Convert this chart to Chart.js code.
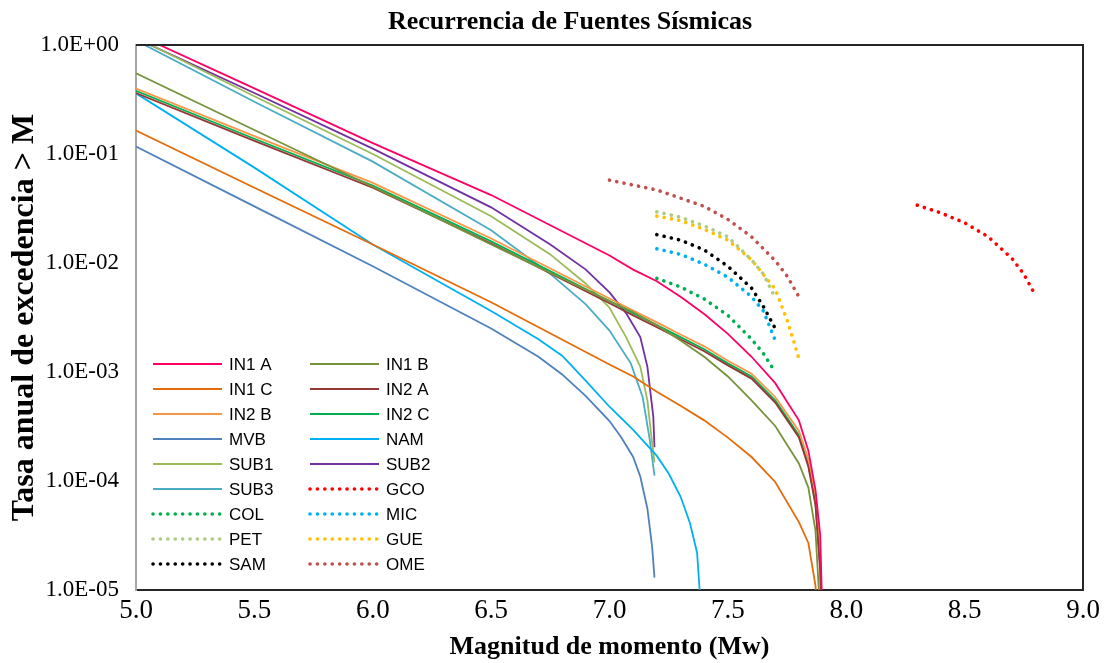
<!DOCTYPE html>
<html>
<head>
<meta charset="utf-8">
<script src="https://cdn.jsdelivr.net/npm/chart.js@4.4.0/dist/chart.umd.min.js"></script>
<style>
  html, body { margin: 0; padding: 0; background: #fff; }
  #wrap { width: 1105px; height: 663px; position: relative; }
</style>
</head>
<body>
<div id="wrap"><canvas id="recurrenceChart"></canvas></div>
<script>
// Magnitudes (Mw) and annual exceedance rates
const in1aM = [5.0, 5.5, 6.0, 6.5, 7.0, 7.1, 7.2, 7.3, 7.4, 7.5, 7.6, 7.7, 7.8, 7.84, 7.87, 7.89, 7.9];
const in1aRate = [1.26, 0.40, 0.126, 0.042, 0.0117, 0.0087, 0.0068, 0.0049, 0.0034, 0.00224, 0.00138, 0.00079, 0.00036, 0.00019, 8.3e-5, 3.2e-5, 5e-6];

const in1bM = [5.0, 5.5, 6.0, 6.5, 7.0, 7.1, 7.2, 7.3, 7.4, 7.5, 7.6, 7.7, 7.8, 7.84, 7.87, 7.89];
const in1bRate = [0.55, 0.166, 0.050, 0.0148, 0.00447, 0.00355, 0.00269, 0.00195, 0.00138, 0.00091, 0.00055, 0.00032, 0.000145, 8.7e-5, 3.5e-5, 6e-6];

const in1cM = [5.0, 5.5, 6.0, 6.5, 7.0, 7.1, 7.2, 7.3, 7.4, 7.5, 7.6, 7.7, 7.8, 7.84, 7.87, 7.88];
const in1cRate = [0.164, 0.049, 0.0148, 0.00437, 0.00117, 0.00091, 0.00066, 0.00049, 0.00036, 0.00025, 0.000166, 9.8e-5, 4.2e-5, 2.7e-5, 1.1e-5, 5e-6];

const in2M = [5.0, 5.5, 6.0, 6.5, 7.0, 7.1, 7.2, 7.3, 7.4, 7.5, 7.6, 7.7, 7.8, 7.84, 7.87, 7.89, 7.9];
const in2aRate = [0.363, 0.132, 0.049, 0.0151, 0.00427, 0.00331, 0.00257, 0.002, 0.00155, 0.00115, 0.00087, 0.000525, 0.000251, 0.000135, 6e-5, 1.5e-5, 3e-6];
const in2bRate = [0.398, 0.146, 0.0543, 0.0168, 0.00473, 0.00367, 0.00285, 0.00221, 0.00172, 0.00127, 0.000966, 0.00059, 0.000288, 0.000158, 7.6e-5, 2e-5, 3e-6];
const in2cRate = [0.380, 0.138, 0.0513, 0.0158, 0.00447, 0.00347, 0.00269, 0.00209, 0.00162, 0.0012, 0.000912, 0.00055, 0.000263, 0.000141, 6.3e-5, 1.6e-5, 3e-6];

const mvbM = [5.0, 5.5, 6.0, 6.5, 6.7, 6.8, 6.9, 7.0, 7.05, 7.1, 7.13, 7.16, 7.18, 7.19];
const mvbRate = [0.117, 0.0331, 0.00933, 0.00251, 0.00138, 0.00095, 0.0006, 0.000355, 0.000251, 0.000166, 0.00011, 5.6e-5, 2.5e-5, 1.3e-5];

const namM = [5.0, 5.5, 6.0, 6.5, 6.7, 6.8, 6.9, 7.0, 7.1, 7.2, 7.25, 7.3, 7.34, 7.37, 7.39];
const namRate = [0.36, 0.075, 0.0148, 0.00363, 0.002, 0.00141, 0.00083, 0.00048, 0.000295, 0.00017, 0.000117, 7.2e-5, 4.1e-5, 2.2e-5, 5e-6];

const sub1M = [5.0, 5.5, 6.0, 6.5, 6.75, 6.9, 7.0, 7.07, 7.13, 7.16, 7.18, 7.19];
const sub1Rate = [1.17, 0.339, 0.1, 0.0269, 0.012, 0.00646, 0.00389, 0.00209, 0.00112, 0.00055, 0.000224, 0.000148];
const sub2M = [5.0, 5.5, 6.0, 6.5, 6.75, 6.9, 7.0, 7.07, 7.13, 7.16, 7.185, 7.19];
const sub2Rate = [1.15, 0.363, 0.112, 0.0324, 0.0148, 0.0087, 0.00537, 0.00347, 0.00209, 0.00112, 0.00039, 0.000204];
const sub3M = [5.0, 5.5, 6.0, 6.5, 6.75, 6.9, 7.0, 7.09, 7.14, 7.17, 7.19];
const sub3Rate = [1.10, 0.302, 0.0851, 0.02, 0.00794, 0.00417, 0.0024, 0.0012, 0.00059, 0.00024, 0.000112];

const gcoM = [8.3, 8.4, 8.5, 8.6, 8.7, 8.75, 8.8];
const gcoRate = [0.0339, 0.0288, 0.0234, 0.0174, 0.011, 0.0079, 0.005];

const smallM = [7.2, 7.3, 7.4, 7.5, 7.6, 7.65, 7.7];
const colRate = [0.00724, 0.00603, 0.00468, 0.00331, 0.002, 0.00148, 0.001];
const micRate = [0.0135, 0.012, 0.00977, 0.00741, 0.0049, 0.00363, 0.00195];
const petRate = [0.0295, 0.0263, 0.0219, 0.0174, 0.0107, 0.0079, 0.0048];
const samRate = [0.0182, 0.0162, 0.0132, 0.00933, 0.00589, 0.00398, 0.00251];

const gueM = [7.2, 7.3, 7.4, 7.5, 7.6, 7.7, 7.75, 7.78, 7.8];
const gueRate = [0.0269, 0.0245, 0.0204, 0.0162, 0.0107, 0.00575, 0.003, 0.00186, 0.00132];

const omeM = [7.0, 7.2, 7.4, 7.5, 7.6, 7.7, 7.75, 7.8];
const omeRate = [0.0575, 0.0468, 0.0331, 0.0251, 0.0174, 0.0105, 0.0076, 0.0049];

const rateTicks = [1e-5, 1e-4, 1e-3, 1e-2, 1e-1, 1];

// pair magnitude and rate arrays into points
const pts = (m, r) => m.map((x, i) => ({ x: x, y: r[i] }));

// name, points, colour, dotted?
const series = [
  ['IN1 A', pts(in1aM, in1aRate), '#FF0066', false],
  ['IN1 B', pts(in1bM, in1bRate), '#77933C', false],
  ['IN1 C', pts(in1cM, in1cRate), '#E46C0A', false],
  ['IN2 A', pts(in2M, in2aRate), '#953735', false],
  ['IN2 B', pts(in2M, in2bRate), '#F79646', false],
  ['IN2 C', pts(in2M, in2cRate), '#00B050', false],
  ['MVB', pts(mvbM, mvbRate), '#4F81BD', false],
  ['NAM', pts(namM, namRate), '#00B0F0', false],
  ['SUB1', pts(sub1M, sub1Rate), '#9BBB59', false],
  ['SUB2', pts(sub2M, sub2Rate), '#7030A0', false],
  ['SUB3', pts(sub3M, sub3Rate), '#4BACC6', false],
  ['GCO', pts(gcoM, gcoRate), '#FF0000', true],
  ['COL', pts(smallM, colRate), '#00B050', true],
  ['MIC', pts(smallM, micRate), '#00B0F0', true],
  ['PET', pts(smallM, petRate), '#AECB83', true],
  ['GUE', pts(gueM, gueRate), '#FFC000', true],
  ['SAM', pts(smallM, samRate), '#000000', true],
  ['OME', pts(omeM, omeRate), '#C0504D', true]
];

const datasets = series.map(s => ({
  label: s[0],
  data: s[1],
  borderColor: s[2],
  backgroundColor: s[2],
  borderWidth: s[3] ? 3.6 : 1.8,
  borderDash: s[3] ? [0.1, 7.3] : [],
  borderCapStyle: s[3] ? 'round' : 'butt',
  pointRadius: 0,
  tension: 0,
  fill: false,
  clip: 0
}));

// title, frame and two column legend drawn on the canvas
const decorPlugin = {
  id: 'decor',
  afterDatasetsDraw(chart) {
    const ctx = chart.ctx;
    const a = chart.chartArea;
    ctx.save();
    // top and right frame
    ctx.strokeStyle = '#262626';
    ctx.lineWidth = 2;
    ctx.beginPath();
    ctx.moveTo(a.left, a.top);
    ctx.lineTo(a.right, a.top);
    ctx.lineTo(a.right, a.bottom);
    ctx.stroke();

    // title
    ctx.fillStyle = '#000';
    ctx.font = 'bold 26px "Liberation Serif", "Times New Roman", serif';
    ctx.textAlign = 'center';
    ctx.textBaseline = 'middle';
    ctx.fillText('Recurrencia de Fuentes Sísmicas', 570, 22);

    // legend
    ctx.font = '17px "Liberation Sans", Arial, sans-serif';
    ctx.textAlign = 'left';
    chart.data.datasets.forEach((ds, i) => {
      const col = i % 2;
      const row = Math.floor(i / 2);
      const x0 = a.left + 17 + col * 157;
      const y = a.top + 319 + row * 25;
      ctx.save();
      ctx.strokeStyle = ds.borderColor;
      ctx.lineWidth = ds.borderWidth;
      ctx.lineCap = ds.borderCapStyle;
      ctx.setLineDash(ds.borderDash);
      ctx.beginPath();
      ctx.moveTo(x0, y);
      ctx.lineTo(x0 + 69, y);
      ctx.stroke();
      ctx.restore();
      ctx.fillStyle = '#000';
      ctx.fillText(ds.label, x0 + 76, y + 1);
    });
    ctx.restore();
  }
};

new Chart(document.getElementById('recurrenceChart'), {
  type: 'line',
  data: { datasets: datasets },
  options: {
    responsive: true,
    maintainAspectRatio: false,
    animation: false,
    layout: { padding: { top: 45, right: 22, left: 0, bottom: 0 } },
    plugins: {
      legend: { display: false },
      title: { display: false },
      tooltip: { enabled: false }
    },
    scales: {
      x: {
        type: 'linear',
        min: 5,
        max: 9,
        grid: { display: false, drawTicks: false },
        border: { display: true, color: '#262626', width: 2 },
        ticks: {
          stepSize: 0.5,
          padding: 5,
          color: '#000',
          font: { family: '"Liberation Serif", "Times New Roman", serif', size: 27 },
          callback: v => v.toFixed(1)
        },
        title: {
          display: true,
          text: 'Magnitud de momento (Mw)',
          color: '#000',
          padding: { top: 2, bottom: 0 },
          font: { family: '"Liberation Serif", "Times New Roman", serif', size: 26, weight: 'bold' }
        },
        afterFit: s => { s.height = 73; }
      },
      y: {
        type: 'logarithmic',
        min: 1e-5,
        max: 1,
        grid: { display: false, drawTicks: false },
        border: { display: true, color: '#A6A6A6', width: 2 },
        afterBuildTicks: s => { s.ticks = rateTicks.map(v => ({ value: v })); },
        ticks: {
          padding: 17,
          color: '#000',
          font: { family: '"Liberation Serif", "Times New Roman", serif', size: 23 },
          callback: v => {
            const e = Math.round(Math.log10(v));
            return '1.0E' + (e < 0 ? '-' : '+') + String(Math.abs(e)).padStart(2, '0');
          }
        },
        title: {
          display: true,
          text: 'Tasa anual de excedencia > M',
          color: '#000',
          padding: { top: 6, bottom: 0 },
          font: { family: '"Liberation Serif", "Times New Roman", serif', size: 32, weight: 'bold' }
        },
        afterFit: s => { s.width = 136; }
      }
    }
  },
  plugins: [decorPlugin]
});
</script>
</body>
</html>
